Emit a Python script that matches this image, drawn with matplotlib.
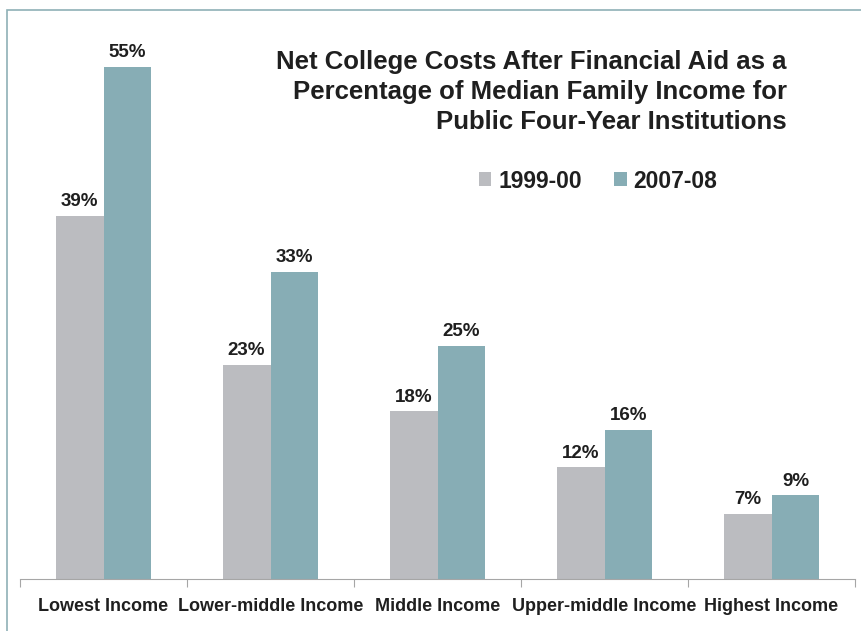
import matplotlib.pyplot as plt
import numpy as np
from matplotlib.patches import Rectangle

plt.rcParams['font.family'] = ['Liberation Sans', 'DejaVu Sans']

categories = ['Lowest Income', 'Lower-middle Income', 'Middle Income',
              'Upper-middle Income', 'Highest Income']
y1999 = [39, 23, 18, 12, 7]
y2007 = [55, 33, 25, 16, 9]
series_names = ['1999-00', '2007-08']

grey = '#BBBCC0'
teal = '#87ADB5'
text_col = '#1f1f1f'

fig = plt.figure(figsize=(8.61, 6.31), dpi=100)
# thin frame round the chart area
fig.patches.append(Rectangle((7/861, -0.05), 1.0, 1 - 10/631 + 0.05,
                             transform=fig.transFigure, fill=False,
                             edgecolor='#8FB0B6', linewidth=1.2))

ax = fig.add_axes([20/861, 52/631, 835/861, 559/631])
x = np.arange(len(categories))
w = 0.287
b1 = ax.bar(x - w/2, y1999, w, color=grey, label=series_names[0])
b2 = ax.bar(x + w/2, y2007, w, color=teal, label=series_names[1])

for bars, vals in [(b1, y1999), (b2, y2007)]:
    for r, v in zip(bars, vals):
        ax.text(r.get_x() + r.get_width()/2, v + 0.6, f'{v}%', ha='center',
                va='bottom', fontsize=13.5, fontweight='bold', color=text_col)

ax.set_xlim(-0.5, len(categories) - 0.5)
ax.set_ylim(0, 60)
ax.set_yticks([])
for s in ['left', 'right', 'top']:
    ax.spines[s].set_visible(False)
ax.spines['bottom'].set_color('#A6A6A6')

ax.set_xticks(np.arange(len(categories) + 1) - 0.5)
ax.set_xticklabels([])
ax.tick_params(axis='x', length=6, color='#A6A6A6', direction='out')
ax.set_xticks(x, minor=True)
ax.set_xticklabels(categories, minor=True, fontsize=13, fontweight='bold',
                   color=text_col)
ax.tick_params(axis='x', which='minor', length=0, pad=14)

fig.text(787/861, 1 - 92/631,
         'Net College Costs After Financial Aid as a\n'
         'Percentage of Median Family Income for\n'
         'Public Four-Year Institutions',
         ha='right', va='center', fontsize=18.5, fontweight='bold',
         color=text_col, linespacing=1.3)

leg = ax.legend(loc='center', bbox_to_anchor=(598/861, 1 - 181/631),
                bbox_transform=fig.transFigure, ncol=2, frameon=False,
                handlelength=0.55, handleheight=0.55, handletextpad=0.3,
                columnspacing=1.4, borderpad=0,
                prop={'size': 16.5, 'weight': 'bold'})
for t in leg.get_texts():
    t.set_color(text_col)

fig.savefig('out.png', dpi=100)
